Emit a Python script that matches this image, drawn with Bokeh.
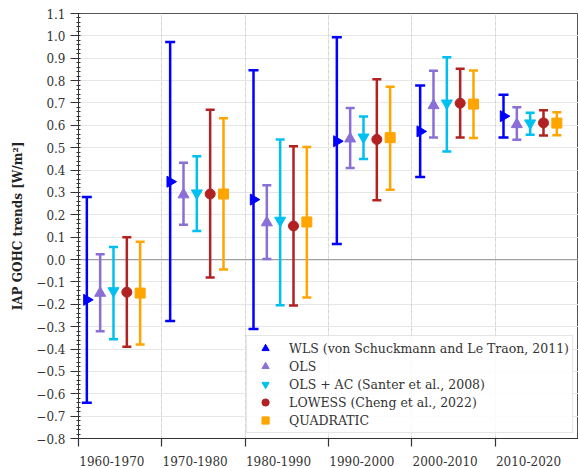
import numpy as np
from bokeh.plotting import figure
from bokeh.models import (ColumnDataSource, Whisker, TeeHead, Span, Legend, LegendItem,
                          FixedTicker, SingleIntervalTicker, CustomJSTickFormatter, Range1d,
                          LinearAxis, Grid)
from bokeh.embed import file_html
from bokeh.resources import INLINE

decades = ["1960-1970", "1970-1980", "1980-1990", "1990-2000", "2000-2010", "2010-2020"]

series_names = ["WLS (von Schuckmann and Le Traon, 2011)", "OLS",
                "OLS + AC (Santer et al., 2008)", "LOWESS (Cheng et al., 2022)", "QUADRATIC"]

wls_mid = [-0.18, 0.348, 0.268, 0.529, 0.573, 0.641]
wls_lo = [-0.64, -0.275, -0.311, 0.07, 0.369, 0.546]
wls_hi = [0.28, 0.973, 0.846, 0.994, 0.778, 0.737]

ols_mid = [-0.15, 0.29, 0.165, 0.54, 0.689, 0.604]
ols_lo = [-0.32, 0.156, 0.003, 0.409, 0.546, 0.536]
ols_hi = [0.024, 0.433, 0.332, 0.678, 0.844, 0.681]

olsac_mid = [-0.14, 0.297, 0.175, 0.547, 0.699, 0.61]
olsac_lo = [-0.356, 0.128, -0.204, 0.449, 0.483, 0.558]
olsac_hi = [0.056, 0.462, 0.537, 0.64, 0.904, 0.656]

lowess_mid = [-0.146, 0.293, 0.15, 0.537, 0.699, 0.611]
lowess_lo = [-0.39, -0.08, -0.205, 0.265, 0.546, 0.555]
lowess_hi = [0.10, 0.67, 0.507, 0.806, 0.853, 0.667]

quad_mid = [-0.15, 0.293, 0.168, 0.545, 0.695, 0.61]
quad_lo = [-0.38, -0.045, -0.17, 0.312, 0.543, 0.556]
quad_hi = [0.08, 0.632, 0.503, 0.772, 0.845, 0.659]

mids = [wls_mid, ols_mid, olsac_mid, lowess_mid, quad_mid]
los = [wls_lo, ols_lo, olsac_lo, lowess_lo, quad_lo]
his = [wls_hi, ols_hi, olsac_hi, lowess_hi, quad_hi]

colors = ["#0000ff", "#8a6fd6", "#00c0f0", "#b22222", "#ffa500"]
markers = ["triangle", "triangle", "inverted_triangle", "circle", "square"]
angles = [-np.pi / 2, 0, 0, 0, 0]
sizes = [11, 11, 11, 10, 10]
offsets = [0.10, 0.26, 0.42, 0.58, 0.74]
cap_sizes = [10, 9, 9, 9, 9]
LABEL_SHIFT = 0.40  # tick labels start at the tick (left-aligned look)

FONT = "DejaVu Serif"
AX = "#333333"

p = figure(width=578, height=468, output_backend="svg", toolbar_location=None,
           x_range=Range1d(0, 6), y_range=Range1d(-0.8, 1.1), x_axis_location=None,
           min_border_left=78, min_border_right=0, min_border_top=13, min_border_bottom=30)

p.outline_line_color = "#555555"
p.outline_line_width = 1

xticks = FixedTicker(ticks=list(range(len(decades))))

# x axis: ticks only
tick_axis = LinearAxis(ticker=xticks,
                       major_label_overrides={i: "" for i in range(len(decades))},
                       major_label_standoff=0, minor_tick_line_color=None,
                       axis_line_color=AX, major_tick_line_color=AX,
                       major_tick_line_width=1.2,
                       major_tick_out=8, major_tick_in=0,
                       major_label_text_font_size="1px")
p.add_layout(tick_axis, "below")

# second x axis carrying the labels, left-aligned at each tick
lab_axis = LinearAxis(ticker=FixedTicker(ticks=[i + LABEL_SHIFT for i in range(len(decades))]),
                      major_label_overrides={i + LABEL_SHIFT: d for i, d in enumerate(decades)},
                      axis_line_color=None, major_tick_line_color=None, minor_tick_line_color=None,
                      major_tick_out=0, major_tick_in=0, major_label_standoff=9,
                      major_label_text_font=FONT, major_label_text_font_size="12px",
                      major_label_text_color=AX)
p.add_layout(lab_axis, "below")

p.add_layout(Grid(dimension=0, ticker=xticks, grid_line_color="#cfcfcf",
                  grid_line_dash="dotted"))

p.yaxis.ticker = SingleIntervalTicker(interval=0.1, num_minor_ticks=5)
p.yaxis.formatter = CustomJSTickFormatter(code="return tick.toFixed(1).replace('-', '\u2212');")
p.yaxis.major_label_text_font = FONT
p.yaxis.major_label_text_font_size = "12px"
p.yaxis.major_label_text_color = AX
p.yaxis.axis_line_color = AX
p.yaxis.major_tick_line_color = AX
p.yaxis.major_tick_out = 8
p.yaxis.major_tick_in = 0
p.yaxis.minor_tick_line_color = AX
p.yaxis.minor_tick_in = 2
p.yaxis.minor_tick_out = 2
p.yaxis.axis_label = "IAP GOHC trends [W/m\u00b2]"
p.yaxis.axis_label_text_font = FONT
p.yaxis.axis_label_text_font_style = "bold"
p.yaxis.axis_label_text_font_size = "12px"
p.yaxis.axis_label_text_color = "#222222"
p.yaxis.axis_label_standoff = 8
p.ygrid.grid_line_color = "#e6e6e6"

zero = Span(location=0, dimension="width", line_color="#a0a0a0", line_width=1.3, level="underlay")
p.add_layout(zero)

items = []
xbase = np.arange(len(decades))
for i in range(5):
    c = colors[i]
    src = ColumnDataSource(dict(x=xbase + offsets[i], mid=mids[i], lo=los[i], hi=his[i]))
    w = Whisker(base="x", lower="lo", upper="hi", source=src, dimension="height",
                line_color=c, line_width=2.5, level="glyph",
                lower_head=TeeHead(size=cap_sizes[i], line_color=c, line_width=2.5),
                upper_head=TeeHead(size=cap_sizes[i], line_color=c, line_width=2.5))
    p.add_layout(w)
    r = p.scatter(x="x", y="mid", source=src, marker=markers[i], size=sizes[i],
                  angle=angles[i], fill_color=c, line_color=c)
    items.append(LegendItem(label=series_names[i], renderers=[r]))

legend = Legend(items=items, location="bottom_right", margin=5, padding=3,
                glyph_width=30, glyph_height=18, label_height=18, spacing=0,
                label_standoff=9, label_text_font=FONT, label_text_font_size="12.5px",
                label_text_color=AX, border_line_color="#cccccc",
                background_fill_alpha=0.85)
p.add_layout(legend)

open("out.html", "w").write(file_html(p, INLINE))
